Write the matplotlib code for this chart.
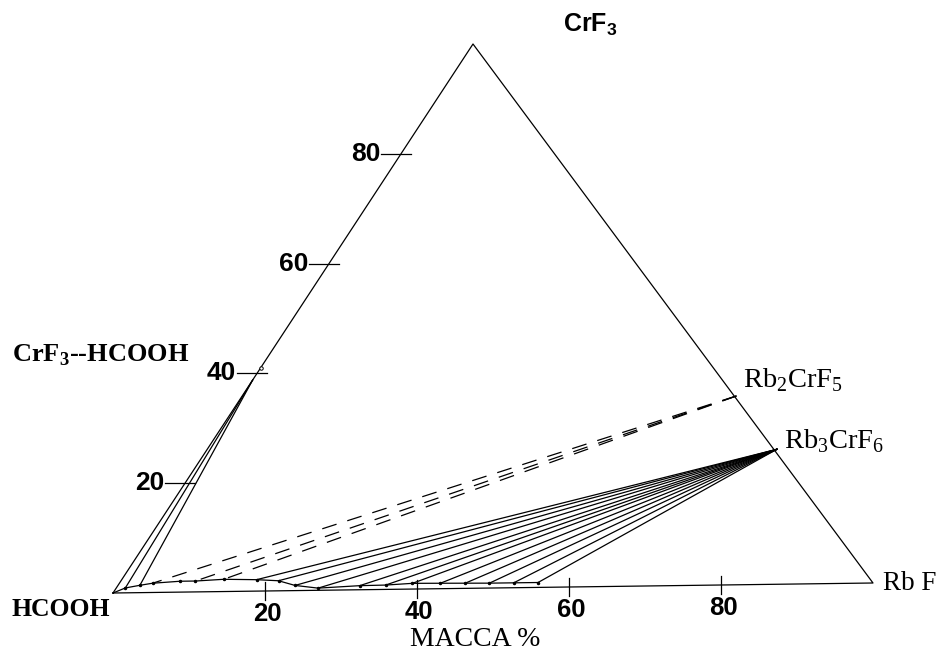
import numpy as np
import matplotlib.pyplot as plt

plt.rcParams['font.family'] = ['Liberation Sans', 'DejaVu Sans']

# ---- data (mass %) ----
# liquidus points along the HCOOH side: RbF %, CrF3 %
liq_rbf = [0.0, 1.2, 2.9, 4.4, 7.9, 9.9, 13.5, 17.9, 20.9, 23.5, 26.8,
           32.1, 35.5, 38.9, 42.6, 45.9, 49.1, 52.3, 55.5]
liq_crf3 = [0.0, 0.9, 1.35, 1.7, 2.0, 2.0, 2.25, 2.1, 1.85, 0.95, 0.4,
            0.75, 0.8, 1.05, 1.0, 0.95, 0.9, 0.9, 0.9]

# solid phases: (RbF %, CrF3 %)
solvate = (0.0, 38.8)
rb2crf5 = (65.6, 34.7)
rb3crf6 = (75.6, 24.8)

# which liquid points are tied to which solid
solvate_ties = [1, 2]
rb2_ties = [3, 5, 6]
rb3_ties = list(range(7, 19))

tick_vals = [20, 40, 60, 80]

# ---- triangle layout (pixel space) ----
H_XY = np.array([113.0, 593.0])   # HCOOH
R_XY = np.array([873.0, 583.0])   # RbF
C_XY = np.array([473.0, 44.0])    # CrF3


def tern(rbf, crf3):
    rbf = np.asarray(rbf, float) / 100
    crf3 = np.asarray(crf3, float) / 100
    x = H_XY[0] + rbf * (R_XY[0] - H_XY[0]) + crf3 * (C_XY[0] - H_XY[0])
    y = H_XY[1] + rbf * (R_XY[1] - H_XY[1]) + crf3 * (C_XY[1] - H_XY[1])
    return x, y


fig = plt.figure(figsize=(9.42, 6.54), dpi=100)
ax = fig.add_axes([0, 0, 1, 1])
ax.set_xlim(0, 942)
ax.set_ylim(654, 0)
ax.axis('off')

lw = 0.9
# triangle
tx, ty = tern([0, 100, 0, 0], [0, 0, 100, 0])
ax.plot(tx, ty, color='black', lw=lw)

# left axis ticks (CrF3)
for v in tick_vals:
    x, y = tern(0, v)
    ax.plot([x - 20, x + 10], [y, y], color='black', lw=lw)
    ax.text(x - 21, y, str(v), ha='right', va='center', fontsize=19, fontweight='bold')

# bottom axis ticks (RbF)
for v in tick_vals:
    x, y = tern(v, 0)
    ax.plot([x, x], [y - 9, y + 9], color='black', lw=lw)
    ax.text(x + 2, y + 23, str(v), ha='center', va='center', fontsize=18.5, fontweight='bold')

# liquidus curve
lx, ly = tern(liq_rbf, liq_crf3)
ax.plot(lx, ly, color='black', lw=lw)
ax.plot(lx[1:], ly[1:], ls='none', marker='.', ms=3, color='black')

# tie lines
sx, sy = tern(*solvate)
for i in solvate_ties:
    ax.plot([sx, lx[i]], [sy, ly[i]], color='black', lw=lw)
ax.plot(*tern(0, 41), marker='o', ms=2.5, mfc='white', mec='black', mew=0.7)

bx, by = tern(*rb2crf5)
for i in rb2_ties:
    ax.plot([bx, lx[i]], [by, ly[i]], color='black', lw=lw, ls=(0, (12, 9)))

cx, cy = tern(*rb3crf6)
for i in rb3_ties:
    ax.plot([cx, lx[i]], [cy, ly[i]], color='black', lw=lw)

# labels
ax.text(563, 25, 'CrF$_\\mathregular{3}$', fontsize=18, fontweight='bold', va='center', ha='left')
ax.text(12, 355, 'CrF$_\\mathregular{3}$--HCOOH', family='Liberation Serif', fontsize=19,
        fontweight='bold', va='center', ha='left')
ax.text(12, 610, 'HCOOH', family='Liberation Serif', fontsize=18.5, fontweight='bold',
        va='center', ha='left')
ax.text(883, 583, 'Rb F', family='Liberation Serif', fontsize=19.5, va='center', ha='left')
ax.text(743, 380, 'Rb$_\\mathregular{2}$CrF$_\\mathregular{5}$', family='Liberation Serif',
        fontsize=20.5, va='center', ha='left')
ax.text(784, 441, 'Rb$_\\mathregular{3}$CrF$_\\mathregular{6}$', family='Liberation Serif',
        fontsize=20.5, va='center', ha='left')
ax.text(475, 640, 'MACCA %', family='Liberation Serif', fontsize=20, va='center', ha='center')

fig.savefig('out.png', dpi=100)
